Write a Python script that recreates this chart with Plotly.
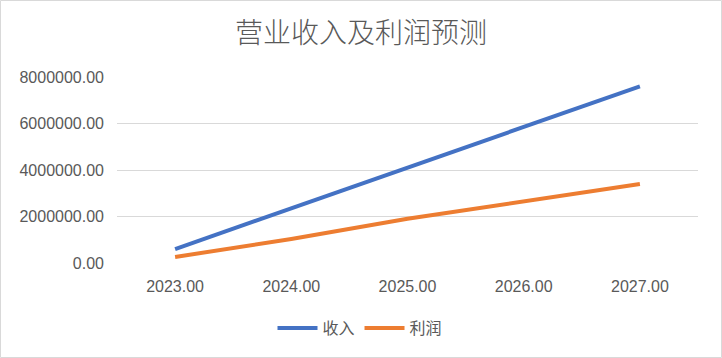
import plotly.graph_objects as go

years = ["2023.00", "2024.00", "2025.00", "2026.00", "2027.00"]
revenue = [600000, 2350000, 4100000, 5850000, 7600000]
profit = [260000, 1030000, 1900000, 2630000, 3400000]
y_ticks = [0, 2000000, 4000000, 6000000, 8000000]
y_tick_text = ["0.00", "2000000.00", "4000000.00", "6000000.00", "8000000.00"]

W, H = 722, 358
ML, MR, MT, MB = 117, 24, 77, 95
pw, ph = W - ML - MR, H - MT - MB

text_color = "#595959"
grid_color = "#D9D9D9"
cjk = "Noto Sans CJK SC"
latin = "Liberation Sans"

fig = go.Figure()
fig.add_trace(go.Scatter(x=years, y=revenue, mode="lines", name="收入",
                         line=dict(color="#4472C4", width=4)))
fig.add_trace(go.Scatter(x=years, y=profit, mode="lines", name="利润",
                         line=dict(color="#ED7D31", width=4)))

fig.update_layout(
    width=W, height=H,
    margin=dict(l=ML, r=MR, t=MT, b=MB),
    paper_bgcolor="white", plot_bgcolor="white",
    title=dict(text="营业收入及利润预测", x=0.5, xref="container", xanchor="center",
               y=1 - 33 / H, yref="container", yanchor="middle",
               font=dict(family=cjk, size=28, color=text_color, weight=300)),
    font=dict(family=latin, color=text_color, size=16),
    showlegend=True,
    legend=dict(orientation="h", x=(360 - ML) / pw, xanchor="center",
                y=-(328 - (MT + ph)) / ph, yanchor="middle",
                font=dict(family=cjk, size=16, color=text_color),
                itemwidth=40, tracegroupgap=0, bgcolor="rgba(0,0,0,0)"),
    xaxis=dict(type="category", range=[-0.5, 4.5], showgrid=False, zeroline=False,
               showline=False, ticks="", ticklabelstandoff=12,
               tickfont=dict(family=latin, size=16, color=text_color)),
    yaxis=dict(range=[0, 8000000], tickvals=y_ticks, ticktext=y_tick_text,
               showgrid=True, gridcolor=grid_color, gridwidth=1, zeroline=False,
               showline=False, ticks="", ticklabelstandoff=12,
               tickfont=dict(family=latin, size=16, color=text_color)),
    shapes=[dict(type="rect", xref="paper", yref="paper",
                 x0=-(ML - 0.5) / pw, x1=1 + (MR - 0.5) / pw,
                 y0=-(MB - 0.5) / ph, y1=1 + (MT - 0.5) / ph,
                 line=dict(color=grid_color, width=1), layer="below")],
)

fig.write_html("out.html", config={"displayModeBar": False},
               post_script="document.body.style.margin='0';")
